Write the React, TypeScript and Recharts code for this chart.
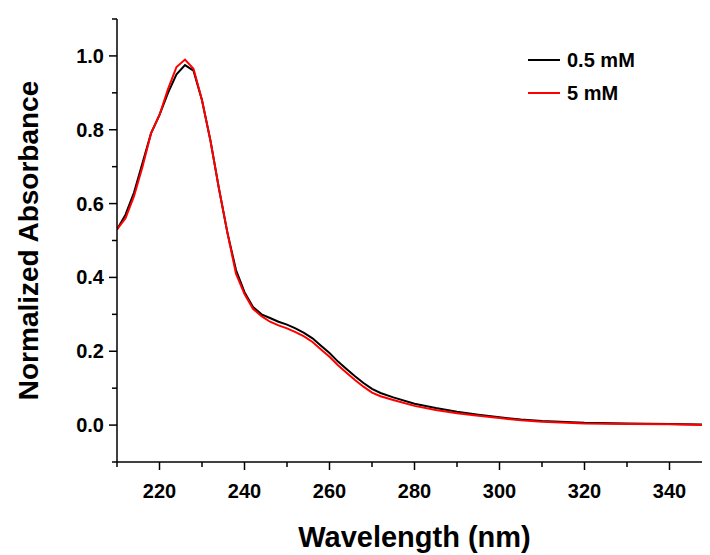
import React from "react";
import { ComposedChart, Line, XAxis, YAxis } from "recharts";

const wavelengths = [210,212,214,216,218,220,222,224,226,228,230,232,234,236,238,240,242,244,246,248,250,252,254,256,258,260,262,264,266,268,270,272,275,280,285,290,295,300,305,310,320,330,340,350];
const black05 = [0.53,0.57,0.63,0.71,0.79,0.84,0.90,0.95,0.975,0.96,0.88,0.77,0.64,0.52,0.42,0.36,0.32,0.30,0.29,0.28,0.272,0.262,0.25,0.235,0.215,0.195,0.172,0.152,0.132,0.114,0.098,0.087,0.075,0.058,0.046,0.036,0.028,0.021,0.015,0.011,0.006,0.004,0.003,0.001];
const red5 = [0.53,0.56,0.62,0.70,0.79,0.84,0.91,0.97,0.99,0.965,0.88,0.77,0.64,0.52,0.41,0.355,0.315,0.295,0.28,0.27,0.262,0.252,0.24,0.225,0.205,0.185,0.162,0.142,0.122,0.104,0.088,0.078,0.068,0.052,0.041,0.032,0.025,0.019,0.013,0.009,0.004,0.003,0.002,0.0];
const xTicks = [210,220,230,240,250,260,270,280,290,300,310,320,330,340,350];
const yTicks = [-0.1,0,0.1,0.2,0.3,0.4,0.5,0.6,0.7,0.8,0.9,1.0,1.1];

const data = wavelengths.map((w, i) => ({ w, a: black05[i], b: red5[i] }));
const F = "Arial, 'Liberation Sans', sans-serif";

const XTick = (p: any) => {
  const v = p.payload.value;
  const major = v % 20 === 0;
  return (
    <g>
      <line x1={p.x} x2={p.x} y1={p.y - 8} y2={p.y - 8 + (major ? 8 : 5)} stroke="#000" strokeWidth={1.5} />
      {major && v < 350 && (
        <text x={p.x} y={p.y + 28} textAnchor="middle" fontFamily={F} fontWeight="bold" fontSize={20}>{v}</text>
      )}
    </g>
  );
};
const XTopTick = (p: any) => {
  const v = p.payload.value;
  const major = v % 20 === 0;
  return <line x1={p.x} x2={p.x} y1={p.y - (major ? 8 : 5)} y2={p.y} stroke="#000" strokeWidth={1.5} />;
};
const YTick = (p: any) => {
  const v = Math.round(p.payload.value * 10);
  const major = v % 2 === 0 && v >= 0 && v <= 10;
  return (
    <g>
      <line x1={p.x + 8} x2={p.x + 8 - (major ? 8 : 5)} y1={p.y} y2={p.y} stroke="#000" strokeWidth={1.5} />
      {major && (
        <text x={p.x - 5} y={p.y + 7} textAnchor="end" fontFamily={F} fontWeight="bold" fontSize={20}>{(v / 10).toFixed(1)}</text>
      )}
    </g>
  );
};

const LegendBox = () => (
  <svg width={170} height={60} style={{ position: "absolute", left: 520, top: 42 }}>
    <line x1={0} x2={32} y1={10} y2={10} stroke="#000" strokeWidth={2} />
    <text x={39} y={17} fontFamily={F} fontWeight="bold" fontSize={20}>0.5 mM</text>
    <line x1={0} x2={32} y1={43} y2={43} stroke="#ff0000" strokeWidth={2} />
    <text x={39} y={50} fontFamily={F} fontWeight="bold" fontSize={20}>5 mM</text>
  </svg>
);

export default function App() {
  return (
    <div style={{ position: "relative", width: 720, height: 547 }}>
      <ComposedChart width={720} height={547} data={data} margin={{ top: 11, right: 16, left: 0, bottom: 0 }}>
        <XAxis dataKey="w" type="number" domain={[210, 350]} ticks={xTicks} interval={0} tick={<XTick />} tickLine={false}
          axisLine={{ stroke: "#000", strokeWidth: 1.5 }} height={93} allowDataOverflow
          label={{ value: "Wavelength (nm)", position: "insideBottom", offset: 8, style: { fontFamily: F, fontWeight: "bold", fontSize: 29, fill: "#000" } }} />
        <XAxis xAxisId="top" orientation="top" dataKey="w" type="number" domain={[210, 350]} ticks={xTicks} interval={0}
          tick={<XTopTick />} tickLine={false} axisLine={{ stroke: "#000", strokeWidth: 1.5 }} height={0} allowDataOverflow />
        <YAxis type="number" domain={[-0.1, 1.1]} ticks={yTicks} interval={0} tick={<YTick />} tickLine={false}
          axisLine={{ stroke: "#000", strokeWidth: 1.5 }} width={109} allowDataOverflow
          label={{ value: "Normalized Absorbance", angle: -90, position: "insideLeft", offset: 20, style: { fontFamily: F, fontWeight: "bold", fontSize: 28, fill: "#000", textAnchor: "middle" } }} />
        <Line dataKey="a" stroke="#000" strokeWidth={2} dot={false} isAnimationActive={false} />
        <Line dataKey="b" stroke="#ff0000" strokeWidth={2} dot={false} isAnimationActive={false} />
      </ComposedChart>
      <LegendBox />
    </div>
  );
}
